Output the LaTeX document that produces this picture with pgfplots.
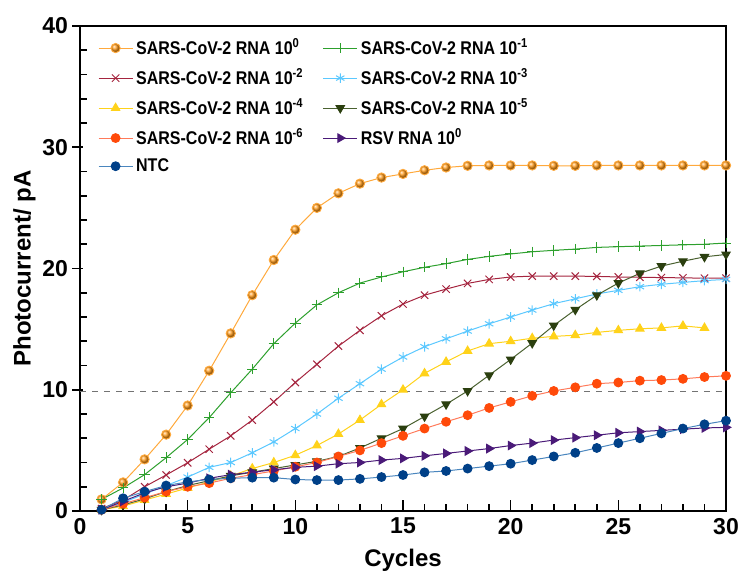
\documentclass[border=0pt]{standalone}
\usepackage{pgfplots}
\usepackage{pgfplotstable}
\usepackage{fontspec}
\setmainfont{Liberation Sans}
\newfontfamily\legfont[FakeStretch=0.87]{Liberation Sans}
\pgfplotsset{compat=1.18}
\usetikzlibrary{shadings}

\definecolor{c0}{HTML}{FF9A1A}
\definecolor{c1}{HTML}{2DA02D}
\definecolor{c2}{HTML}{A5253F}
\definecolor{c3}{HTML}{5BC8FF}
\definecolor{c4}{HTML}{FFD21A}
\definecolor{c5}{HTML}{2B3F0F}
\definecolor{c5l}{HTML}{4A6130}
\definecolor{c6}{HTML}{FF4A0A}
\definecolor{c6l}{HTML}{FF7A5A}
\definecolor{crsv}{HTML}{4A1A78}
\definecolor{cntc}{HTML}{004088}
\definecolor{cntcl}{HTML}{4A86BE}

\pgfplotstableread{
x  s0    s1    s2    s3    s4    s5    s6    rsv   ntc
1  0.96  0.96  0.2   0.1   0.1   0.1   0.1   0.1   0.1
2  2.36  1.9   0.9   0.7   0.4   0.5   0.6   0.8   1.05
3  4.26  3.0   2.0   1.4   0.9   1.0   1.1   1.5   1.6
4  6.3   4.4   2.97  2.1   1.4   1.6   1.6   2.0   2.1
5  8.7   5.9   3.98  2.8   1.9   2.1   2.0   2.3   2.4
6  11.57 7.7   5.1   3.6   2.4   2.5   2.3   2.7   2.6
7  14.65 9.75  6.2   4.0   2.9   2.9   2.7   3.0   2.7
8  17.8  11.7  7.5   4.8   3.5   3.2   3.0   3.2   2.75
9  20.7  13.8  9.0   5.7   4.0   3.5   3.3   3.4   2.75
10 23.2  15.5  10.6  6.8   4.6   3.8   3.65  3.6   2.6
11 25.0  17.0  12.1  8.0   5.4   4.1   4.0   3.7   2.55
12 26.2  18.0  13.6  9.3   6.35  4.5   4.5   3.9   2.55
13 27.0  18.8  14.9  10.5  7.5   5.2   5.0   4.0   2.65
14 27.5  19.3  16.1  11.7  8.8   6.0   5.6   4.2   2.8
15 27.8  19.73 17.07 12.7  10.0  6.8   6.2   4.34  2.97
16 28.1  20.1  17.8  13.55 11.35 7.8   6.8   4.55  3.19
17 28.33 20.4  18.3  14.2  12.3  8.8   7.36  4.75  3.3
18 28.47 20.75 18.77 14.84 13.2  9.9   7.9   4.95  3.5
19 28.5  21.0  19.1  15.44 13.8  11.2  8.5   5.15  3.7
20 28.5  21.2  19.3  16.0  14.0  12.5  9.0   5.4   3.9
21 28.5  21.38 19.37 16.57 14.25 13.85 9.5   5.6   4.2
22 28.47 21.5  19.37 17.1  14.4  15.3  9.9   5.85  4.5
23 28.47 21.6  19.37 17.5  14.5  16.6  10.2  6.05  4.8
24 28.5  21.74 19.35 17.9  14.73 17.8  10.5  6.25  5.2
25 28.5  21.8  19.3  18.2  14.9  18.8  10.6  6.45  5.6
26 28.5  21.85 19.28 18.5  15.03 19.6  10.75 6.55  6.0
27 28.5  21.9  19.25 18.7  15.1  20.2  10.8  6.65  6.4
28 28.5  21.95 19.23 18.85 15.27 20.6  10.9  6.75  6.8
29 28.5  22.0  19.2  19.0  15.1  20.96 11.05 6.85  7.15
30 28.5  22.1  19.2  19.1  nan   21.16 11.15 6.9   7.45
}\curves

\begin{document}
\begin{tikzpicture}
\begin{axis}[
  scale only axis, width=323pt, height=242.5pt,
  xmin=0, xmax=30, ymin=0, ymax=40,
  xtick={0,5,...,30}, ytick={0,10,...,40},
  minor x tick num=4, minor y tick num=4,
  tick align=inside, tick pos=left,
  major tick length=5.5pt, minor tick length=3.6pt,
  every tick/.style={black, line width=0.8pt},
  major y tick style={xshift=-3.8pt},
  axis line style={line width=1pt},
  /pgf/number format/assume math mode=true,
  ticklabel style={font=\fontsize{11.5}{13}\selectfont\bfseries},
  yticklabel style={xshift=-2.5pt},
  xlabel={Cycles}, ylabel={Photocurrent/ pA},
  label style={font=\fontsize{12}{14}\selectfont\bfseries},
  xlabel style={at={(axis description cs:0.5,-0.101)}, anchor=center},
  ylabel style={at={(axis description cs:-0.086,0.5)}, anchor=center},
  legend columns=2,
  legend style={at={(0.018,0.99)}, anchor=north west, draw=none, fill=none,
    font=\legfont\fontsize{9.2}{10}\selectfont\bfseries, row sep=2.2pt,
    nodes={inner sep=1.5pt},
    /tikz/every even column/.append style={column sep=8pt}},
  legend cell align=left,
  every axis plot/.append style={line width=0.5pt},
]
\addplot[c0!85, mark=ball, mark size=2.3pt, mark options={ball color=c0, draw=none}] table[y=s0] {\curves};
\addlegendentry{SARS-CoV-2 RNA 10\textsuperscript{0}}
\addplot[c1, mark=+, mark size=2.6pt] table[y=s1] {\curves};
\addlegendentry{SARS-CoV-2 RNA 10\textsuperscript{-1}}
\addplot[c2, mark=x, mark size=2.6pt] table[y=s2] {\curves};
\addlegendentry{SARS-CoV-2 RNA 10\textsuperscript{-2}}
\addplot[c3, mark=asterisk, mark size=2.4pt] table[y=s3] {\curves};
\addlegendentry{SARS-CoV-2 RNA 10\textsuperscript{-3}}
\addplot[c4, mark=triangle*, mark size=2.4pt, mark options={fill=c4}] table[y=s4] {\curves};
\addlegendentry{SARS-CoV-2 RNA 10\textsuperscript{-4}}
\addplot[c5l, mark=triangle*, mark size=2.4pt, mark options={rotate=180, fill=c5, draw=c5}] table[y=s5] {\curves};
\addlegendentry{SARS-CoV-2 RNA 10\textsuperscript{-5}}
\addplot[c6l, mark=*, mark size=2.2pt, mark options={fill=c6, draw=c6}] table[y=s6] {\curves};
\addlegendentry{SARS-CoV-2 RNA 10\textsuperscript{-6}}
\addplot[crsv, mark=triangle*, mark size=2.4pt, mark options={rotate=-90, fill=crsv}] table[y=rsv] {\curves};
\addlegendentry{RSV RNA 10\textsuperscript{0}}
\addplot[cntcl, mark=*, mark size=2.2pt, mark options={fill=cntc, draw=cntc}] table[y=ntc] {\curves};
\addlegendentry{NTC}
\addplot[black!55, dashed, line width=0.75pt, forget plot] coordinates {(0,9.85) (30,9.85)};
\end{axis}
\pgfresetboundingbox
\path ([shift={(-40pt,-31pt)}]current axis.south west) rectangle ([shift={(7.5pt,13pt)}]current axis.north east);
\end{tikzpicture}
\end{document}
